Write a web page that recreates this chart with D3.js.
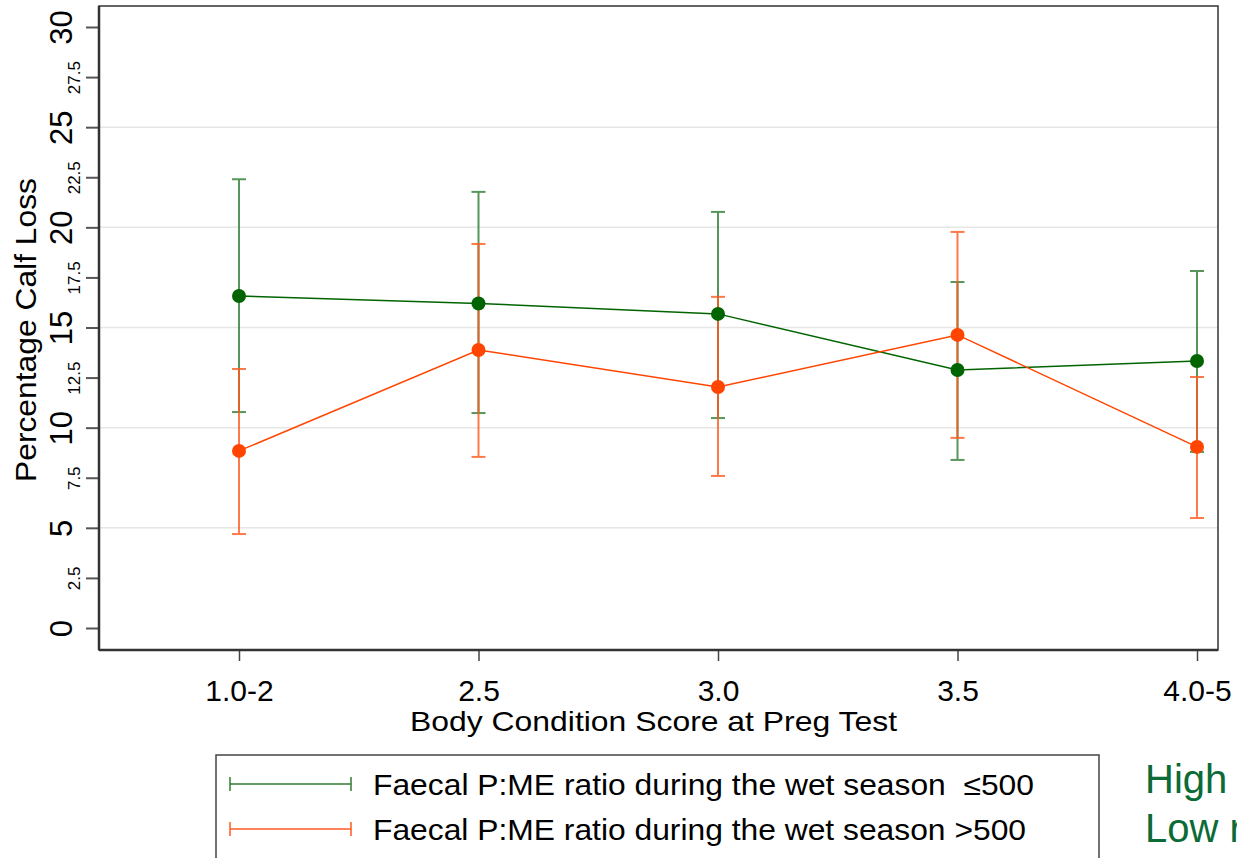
<!DOCTYPE html>
<html>
<head>
<meta charset="utf-8">
<script src="https://d3js.org/d3.v7.min.js"></script>
<style>
  body{ margin:0; background:#fff; }
  svg{ display:block; font-family: "Liberation Sans", Arial, sans-serif; }
</style>
</head>
<body>
<script>
    var width = 1237, height = 858;

    // data
    var categories = ["1.0-2", "2.5", "3.0", "3.5", "4.0-5"];
    var lowMean  = [16.57, 16.2, 15.68, 12.88, 13.33];
    var lowUpper = [22.4, 21.77, 20.77, 17.27, 17.82];
    var lowLower = [10.78, 10.73, 10.48, 8.39, 8.79];
    var highMean  = [8.84, 13.88, 12.03, 14.63, 9.04];
    var highUpper = [12.93, 19.17, 16.53, 19.77, 12.53];
    var highLower = [4.69, 8.54, 7.59, 9.49, 5.49];
    var majorTicks = [0, 5, 10, 15, 20, 25, 30];
    var minorTicks = [2.5, 7.5, 12.5, 17.5, 22.5, 27.5];
    var legendLabels = ["Faecal P:ME ratio during the wet season  \u2264500", "Faecal P:ME ratio during the wet season >500"];
    var sideLabels = ["High risk", "Low risk"];

    var green = "#006400", orange = "#ff4500";
    var greenBar = "#2e7d32", orangeBar = "#ff5a1e";

    var plot = {left: 99, top: 6, right: 1218, bottom: 650};

    var svg = d3.select("body").append("svg")
        .attr("width", width)
        .attr("height", height);

    var x = d3.scalePoint().domain(categories).range([239, 1197]);
    var y = d3.scaleLinear().domain([0, 30]).range([628, 27]);

    // gridlines
    svg.selectAll("line.grid")
        .data(majorTicks.filter(function(d){ return d > 0 && d < 30; }))
        .enter().append("line")
        .attr("class", "grid")
        .attr("x1", plot.left).attr("x2", plot.right)
        .attr("y1", function(d){ return y(d); })
        .attr("y2", function(d){ return y(d); })
        .attr("stroke", "#e6e6e6")
        .attr("stroke-width", 1.5);

    // frame
    svg.append("rect")
        .attr("x", plot.left).attr("y", plot.top)
        .attr("width", plot.right - plot.left)
        .attr("height", plot.bottom - plot.top)
        .attr("fill", "none")
        .attr("stroke", "#333")
        .attr("stroke-width", 1.5);

    // y axis
    var yAxisMajor = d3.axisLeft(y).tickValues(majorTicks).tickSize(13).tickFormat(d3.format("d"));
    var gy = svg.append("g").attr("transform", "translate(" + plot.left + ",0)").call(yAxisMajor);
    gy.select(".domain").remove();
    gy.selectAll(".tick line").attr("stroke", "#555").attr("stroke-width", 2);
    gy.selectAll(".tick text")
        .attr("font-size", 31)
        .attr("fill", "#000")
        .attr("x", null).attr("dy", null)
        .attr("text-anchor", "middle")
        .attr("transform", "translate(-27,0) rotate(-90)");

    var yAxisMinor = d3.axisLeft(y).tickValues(minorTicks).tickSize(13).tickFormat(function(d){ return d; });
    var gy2 = svg.append("g").attr("transform", "translate(" + plot.left + ",0)").call(yAxisMinor);
    gy2.select(".domain").remove();
    gy2.selectAll(".tick line").attr("stroke", "#555").attr("stroke-width", 2);
    gy2.selectAll(".tick text")
        .attr("font-size", 17)
        .attr("fill", "#000")
        .attr("x", null).attr("dy", null)
        .attr("text-anchor", "middle")
        .attr("transform", "translate(-19,0) rotate(-90)");

    svg.append("line")
        .attr("x1", plot.left).attr("x2", plot.left)
        .attr("y1", plot.top).attr("y2", plot.bottom)
        .attr("stroke", "#333").attr("stroke-width", 2.5);

    // x axis
    var xAxis = d3.axisBottom(x).tickSize(11).tickPadding(19);
    var gx = svg.append("g").attr("transform", "translate(0," + plot.bottom + ")").call(xAxis);
    gx.select(".domain").remove();
    gx.selectAll(".tick line").attr("stroke", "#444").attr("stroke-width", 1.5);
    gx.selectAll(".tick text").attr("font-size", 30).attr("fill", "#000");

    svg.append("line")
        .attr("x1", plot.left).attr("x2", plot.right)
        .attr("y1", plot.bottom).attr("y2", plot.bottom)
        .attr("stroke", "#333").attr("stroke-width", 2.5);

    // axis titles
    svg.append("text")
        .attr("x", 410).attr("y", 731)
        .attr("font-size", 28)
        .attr("textLength", 487)
        .attr("lengthAdjust", "spacingAndGlyphs")
        .text("Body Condition Score at Preg Test");

    svg.append("text")
        .attr("transform", "translate(36,482) rotate(-90)")
        .attr("font-size", 30)
        .attr("textLength", 304)
        .attr("lengthAdjust", "spacingAndGlyphs")
        .text("Percentage Calf Loss");

    var series = [
        {mean: lowMean, upper: lowUpper, lower: lowLower, color: green, bar: greenBar},
        {mean: highMean, upper: highUpper, lower: highLower, color: orange, bar: orangeBar}
    ];

    // error bars
    series.forEach(function(s){
        var g = svg.append("g").attr("stroke", s.bar).attr("stroke-width", 2).attr("opacity", 0.8);
        categories.forEach(function(c, i){
            g.append("line")
                .attr("x1", x(c)).attr("x2", x(c))
                .attr("y1", y(s.lower[i])).attr("y2", y(s.upper[i]));
            [s.lower[i], s.upper[i]].forEach(function(v){
                g.append("line")
                    .attr("x1", x(c) - 7).attr("x2", x(c) + 7)
                    .attr("y1", y(v)).attr("y2", y(v));
            });
        });
    });

    // connected lines and points
    var line = d3.line()
        .x(function(d){ return x(d.c); })
        .y(function(d){ return y(d.v); });

    series.forEach(function(s){
        var pts = categories.map(function(c, i){ return {c: c, v: s.mean[i]}; });
        svg.append("path")
            .attr("d", line(pts))
            .attr("fill", "none")
            .attr("stroke", s.color)
            .attr("stroke-width", 1.5);
        svg.append("g").selectAll("circle")
            .data(pts)
            .enter().append("circle")
            .attr("cx", function(d){ return x(d.c); })
            .attr("cy", function(d){ return y(d.v); })
            .attr("r", 7)
            .attr("fill", s.color);
    });

    // legend
    svg.append("rect")
        .attr("x", 216).attr("y", 755)
        .attr("width", 883).attr("height", 120)
        .attr("fill", "#fff")
        .attr("stroke", "#444")
        .attr("stroke-width", 1.5);

    var legendY = [784, 829];
    var legendLen = [661, 653];
    series.forEach(function(s, i){
        var g = svg.append("g").attr("stroke", s.bar).attr("stroke-width", 1.5);
        g.append("line").attr("x1", 230).attr("x2", 351).attr("y1", legendY[i]).attr("y2", legendY[i]);
        g.append("line").attr("x1", 230).attr("x2", 230).attr("y1", legendY[i] - 7).attr("y2", legendY[i] + 7);
        g.append("line").attr("x1", 351).attr("x2", 351).attr("y1", legendY[i] - 7).attr("y2", legendY[i] + 7);
        svg.append("text")
            .attr("x", 373).attr("y", legendY[i] + 11)
            .attr("font-size", 29)
            .attr("textLength", legendLen[i])
            .attr("lengthAdjust", "spacingAndGlyphs")
            .style("white-space", "pre")
            .text(legendLabels[i]);
    });

    // side labels (run past the right edge, as in the original)
    sideLabels.forEach(function(t, i){
        svg.append("text")
            .attr("x", 1145).attr("y", 793 + i * 49)
            .attr("font-size", 40)
            .attr("fill", "#0b6a36")
            .text(t);
    });
</script>
</body>
</html>
